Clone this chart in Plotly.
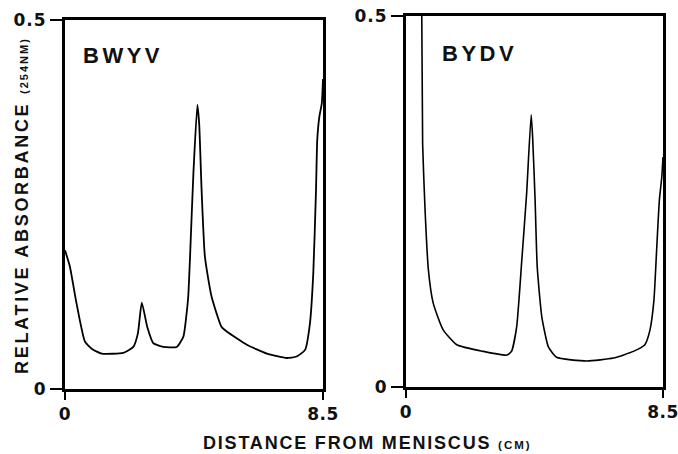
import plotly.graph_objects as go

# ---- data ----
bwyv_x = [0.00, 0.16, 0.38, 0.66, 0.90, 1.21, 1.92, 2.25, 2.40, 2.53, 2.71, 2.91, 3.24, 3.68,
          3.90, 4.00, 4.06, 4.12, 4.23, 4.36, 4.42, 4.50, 4.61, 4.83, 5.16, 5.33, 5.99, 6.65,
          7.30, 7.63, 7.91, 8.07, 8.18, 8.27, 8.31, 8.38, 8.46, 8.50]
bwyv_y = [0.188, 0.166, 0.116, 0.064, 0.054, 0.048, 0.049, 0.057, 0.075, 0.117, 0.084, 0.062, 0.057, 0.057,
          0.071, 0.100, 0.125, 0.179, 0.292, 0.385, 0.360, 0.270, 0.179, 0.125, 0.084, 0.078, 0.060, 0.048,
          0.042, 0.044, 0.053, 0.089, 0.157, 0.270, 0.337, 0.369, 0.387, 0.420]

bydv_x = [0.52, 0.55, 0.63, 0.74, 0.90, 1.23, 1.68, 2.56, 3.33, 3.49, 3.66, 3.83, 3.99, 4.14,
          4.19, 4.27, 4.34, 4.49, 4.71, 4.98, 5.98, 6.86, 7.52, 7.90, 8.07, 8.20, 8.29, 8.38, 8.46, 8.50]
bydv_y = [0.510, 0.328, 0.239, 0.158, 0.113, 0.077, 0.057, 0.048, 0.043, 0.048, 0.081, 0.171, 0.261, 0.367,
          0.335, 0.252, 0.162, 0.095, 0.054, 0.040, 0.035, 0.039, 0.048, 0.057, 0.077, 0.117, 0.185, 0.252, 0.283, 0.310]

panel_names = ["BWYV", "BYDV"]
x_tickvals = [0, 8.5]
x_ticktext = ["0", "8.5"]
y_tickvals = [0, 0.5]
y_ticktext = ["0", "0.5"]
x_title = "DISTANCE FROM MENISCUS"
x_unit = "(CM)"
y_title = "RELATIVE ABSORBANCE"
y_unit = "(254NM)"

W, H = 678, 454
FONT = "Liberation Sans"
TICKFONT = "DejaVu Sans"

def px(x):
    return x / W

def py(y):
    return 1 - y / H

def sp(t, ls):
    return f"<span style='letter-spacing:{ls}px'>{t}</span>"

fig = go.Figure()
fig.add_trace(go.Scatter(x=bwyv_x, y=bwyv_y, mode="lines",
                         line=dict(color="black", width=1.8, shape="spline", smoothing=0.5),
                         xaxis="x", yaxis="y", showlegend=False, hoverinfo="skip"))
fig.add_trace(go.Scatter(x=bydv_x, y=bydv_y, mode="lines",
                         line=dict(color="black", width=1.6, shape="spline", smoothing=0.5),
                         xaxis="x2", yaxis="y2", showlegend=False, hoverinfo="skip"))

tickfont = dict(family=TICKFONT, size=17, color="#111")
common_x = dict(range=[0, 8.5], showgrid=False, zeroline=False, showline=True, mirror=True,
                linecolor="black", linewidth=3, ticks="outside", ticklen=8, tickwidth=1.5,
                tickcolor="black", tickvals=x_tickvals, automargin=False,
                ticklabeloverflow="allow",
                ticktext=[sp(f"<b>{t}</b>", 0.5) for t in x_ticktext], tickfont=tickfont)
common_y = dict(range=[0, 0.5], showgrid=False, zeroline=False, showline=True, mirror=True,
                linecolor="black", linewidth=3, ticks="outside", ticklen=12, tickwidth=1.5,
                tickcolor="black", tickvals=y_tickvals, automargin=False,
                ticklabeloverflow="allow",
                ticktext=[sp(f"<b>{t}</b>", 1) for t in y_ticktext], tickfont=tickfont)

fig.update_layout(
    width=W, height=H, margin=dict(l=0, r=0, t=0, b=0, autoexpand=False),
    paper_bgcolor="white", plot_bgcolor="white",
    xaxis=dict(domain=[px(65), px(323)], anchor="y", **common_x),
    yaxis=dict(domain=[py(389), py(20)], anchor="x", **common_y),
    xaxis2=dict(domain=[px(406), px(663)], anchor="y2", **common_x),
    yaxis2=dict(domain=[py(387), py(16)], anchor="x2", **common_y),
)

annots = [
    dict(text=sp(f"<b>{panel_names[0]}</b>", 3.5), x=px(123), y=py(56),
         font=dict(family=FONT, size=22, color="#111")),
    dict(text=sp(f"<b>{panel_names[1]}</b>", 3.5), x=px(479), y=py(53),
         font=dict(family=FONT, size=22, color="#111")),
    dict(text=sp(f"<b>{y_title} </b>", 2.7) + f"<span style='font-size:11px;letter-spacing:2px'><b>{y_unit}</b></span>",
         x=px(22), y=py(206), textangle=-90,
         font=dict(family=FONT, size=18, color="#111")),
    dict(text=sp(f"<b>{x_title} </b>", 1.8) + f"<span style='font-size:11.5px;letter-spacing:2px'><b>{x_unit}</b></span>",
         x=px(367), y=py(443),
         font=dict(family=FONT, size=18, color="#111")),
]
for a in annots:
    fig.add_annotation(xref="paper", yref="paper", showarrow=False,
                       xanchor="center", yanchor="middle", **a)

# remove the browser's default 8px page margin so the figure fills the window exactly
fig.write_html("out.html", config={"displayModeBar": False},
               post_script="document.body.style.margin='0px';")
